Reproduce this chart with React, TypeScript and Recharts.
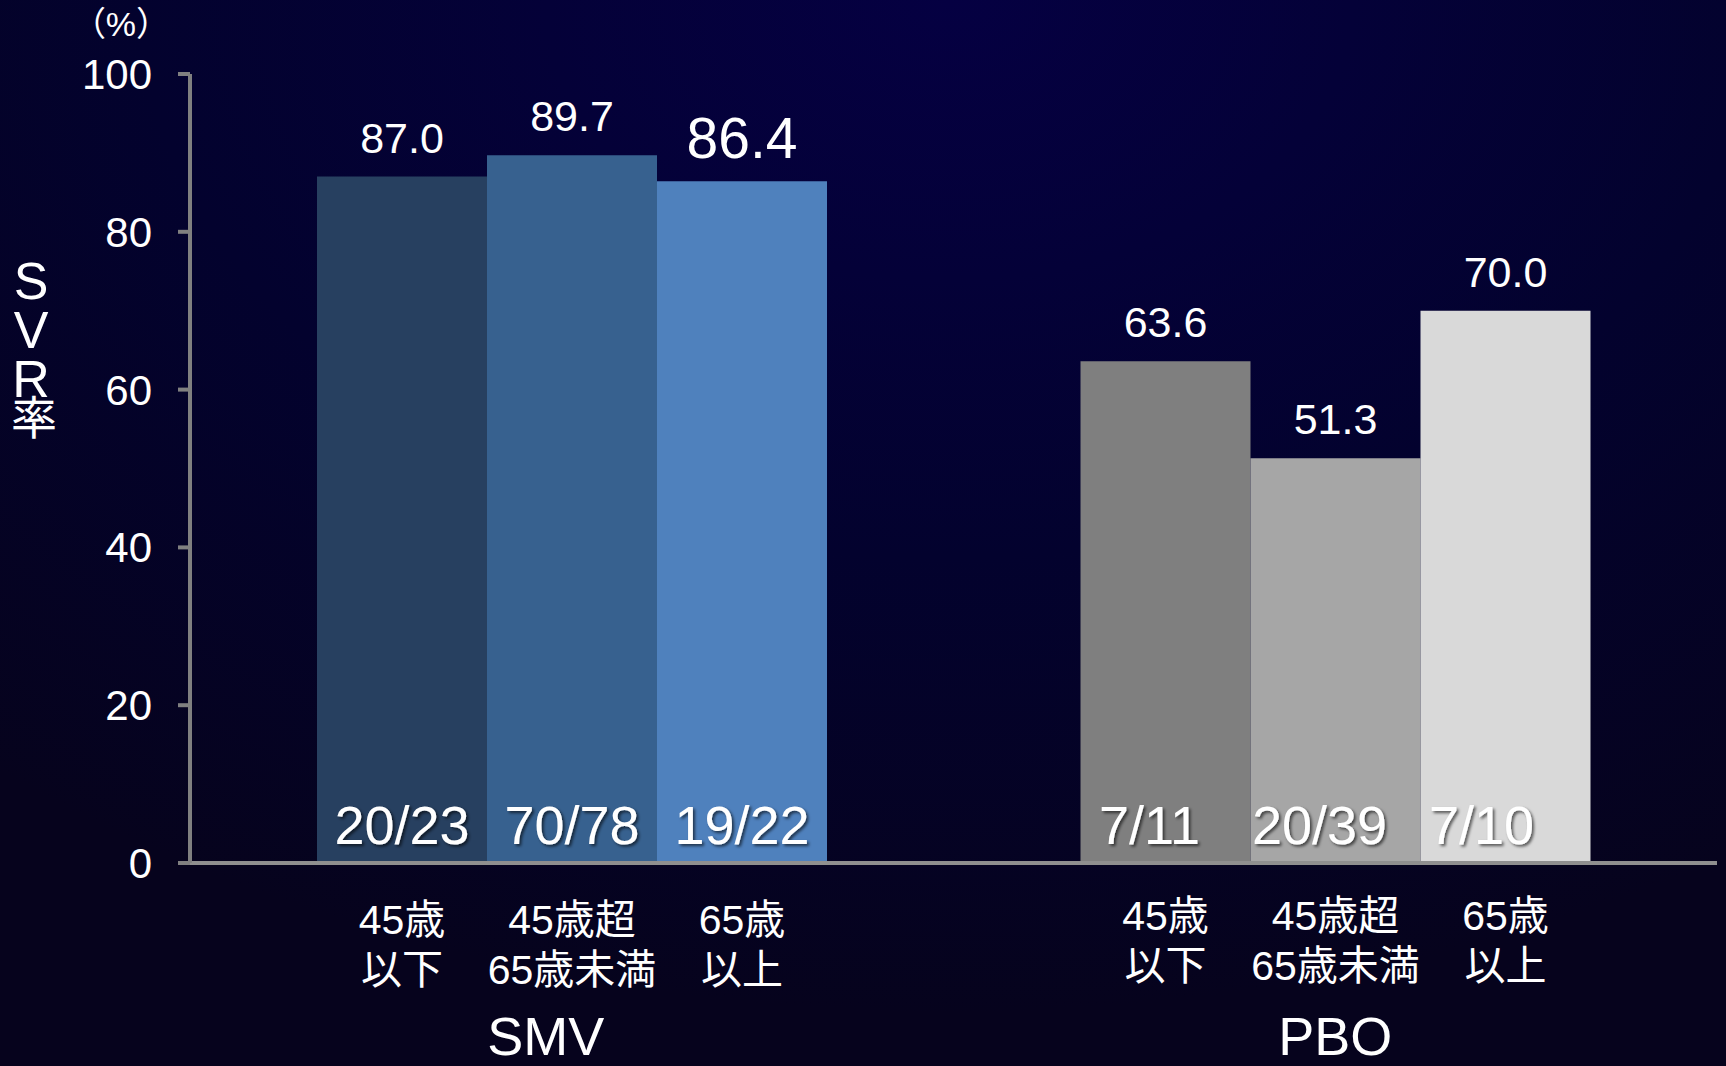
import React from 'react';
import { BarChart, Bar, XAxis, YAxis, Cell, LabelList } from 'recharts';

const categories = ['SMV', 'PBO'];
const ageLabels = [['45歳', '以下'], ['45歳超', '65歳未満'], ['65歳', '以上']];
const le45 = [87.0, 63.6];
const mid = [89.7, 51.3];
const ge65 = [86.4, 70.0];
const le45Frac = ['20/23', '7/11'];
const midFrac = ['70/78', '20/39'];
const ge65Frac = ['19/22', '7/10'];
const yTicks = [0, 20, 40, 60, 80, 100];

const data = categories.map((name, i) => ({
  name,
  le45: le45[i],
  mid: mid[i],
  ge65: ge65[i],
}));

const fractions = [le45Frac, midFrac, ge65Frac];
const seriesKeys = ['le45', 'mid', 'ge65'];

const colors = [
  ['#274060', '#7F7F7F'],
  ['#37618F', '#A6A6A6'],
  ['#4F81BD', '#D9D9D9'],
];

const FONT = "'Liberation Sans', Arial, 'Noto Sans CJK JP', sans-serif";

function makeLabel(s: number) {
  return (props: any) => {
    const { x, y, width, height, index, value } = props;
    const cx = x + width / 2;
    const bottom = y + height;
    const big = s === 2 && index === 0;
    // PBO fractions sit a bit left of centre in the original
    const fracDx = index === 1 ? (s === 2 ? -24 : -16) : 0;
    const ageDy = index === 1 ? -4 : 0;
    return (
      <g fontFamily={FONT}>
        <text
          x={cx}
          y={y - (big ? 43 : 39)}
          fill="#fff"
          fontSize={big ? 57 : 43}
          textAnchor="middle"
          dominantBaseline="central"
        >
          {Number(value).toFixed(1)}
        </text>
        <text
          x={cx + fracDx}
          y={bottom - 19}
          fill="#fff"
          fontSize={54}
          textAnchor="middle"
          filter="url(#shadow)"
        >
          {fractions[s][index]}
        </text>
        <text x={cx} y={bottom + 57 + ageDy} fill="#fff" fontSize={41} textAnchor="middle" dominantBaseline="central">
          {ageLabels[s][0]}
        </text>
        <text x={cx} y={bottom + 107 + ageDy} fill="#fff" fontSize={41} textAnchor="middle" dominantBaseline="central">
          {ageLabels[s][1]}
        </text>
      </g>
    );
  };
}

const GroupTick = (props: any) => {
  const { x, y, payload, index } = props;
  return (
    <text
      x={x + (index === 0 ? -26 : 0)}
      y={y + 173}
      fill="#fff"
      fontSize={54}
      fontFamily={FONT}
      textAnchor="middle"
      dominantBaseline="central"
    >
      {payload.value}
    </text>
  );
};

const YLabel = () => (
  <g fontFamily={FONT} fill="#fff">
    <text x={121} y={24} fontSize={34} textAnchor="middle" dominantBaseline="central">（%）</text>
    <text x={31} y={281} fontSize={52} textAnchor="middle" dominantBaseline="central">S</text>
    <text x={31} y={330} fontSize={52} textAnchor="middle" dominantBaseline="central">V</text>
    <text x={31} y={379} fontSize={52} textAnchor="middle" dominantBaseline="central">R</text>
    <text x={34} y={418} fontSize={46} textAnchor="middle" dominantBaseline="central">率</text>
  </g>
);

export default function App() {
  return (
    <div
      style={{
        position: 'absolute',
        left: 0,
        top: 0,
        width: 1726,
        height: 1066,
        background:
          'radial-gradient(ellipse 85% 95% at 55% 0%, #050042 0%, #03022e 55%, #06031d 100%)',
      }}
    >
      <BarChart
        width={1726}
        height={1066}
        data={data}
        margin={{ top: 74, right: 9, bottom: 0, left: 0 }}
        barSize={170}
        barGap={0}
      >
        <defs>
          <filter id="shadow" x="-10%" y="-20%" width="130%" height="150%">
            <feDropShadow dx="2" dy="2" stdDeviation="1.5" floodColor="#000" floodOpacity="0.6" />
          </filter>
        </defs>
        <XAxis
          dataKey="name"
          height={203}
          tickLine={false}
          tickSize={0}
          tickMargin={0}
          axisLine={{ stroke: '#8f8f8f', strokeWidth: 4 }}
          tick={<GroupTick />}
          interval={0}
        />
        <YAxis
          width={190}
          domain={[0, 100]}
          ticks={yTicks}
          interval={0}
          tickSize={12}
          tickMargin={26}
          axisLine={{ stroke: '#808080', strokeWidth: 4 }}
          tickLine={{ stroke: '#808080', strokeWidth: 4 }}
          tick={{ fill: '#fff', fontSize: 42, fontFamily: FONT }}
          label={{ content: () => <YLabel /> }}
        />
        {seriesKeys.map((key, s) => (
          <Bar key={key} dataKey={key} isAnimationActive={false}>
            {data.map((d, i) => (
              <Cell key={d.name} fill={colors[s][i]} />
            ))}
            <LabelList dataKey={key} content={makeLabel(s)} />
          </Bar>
        ))}
      </BarChart>
    </div>
  );
}
